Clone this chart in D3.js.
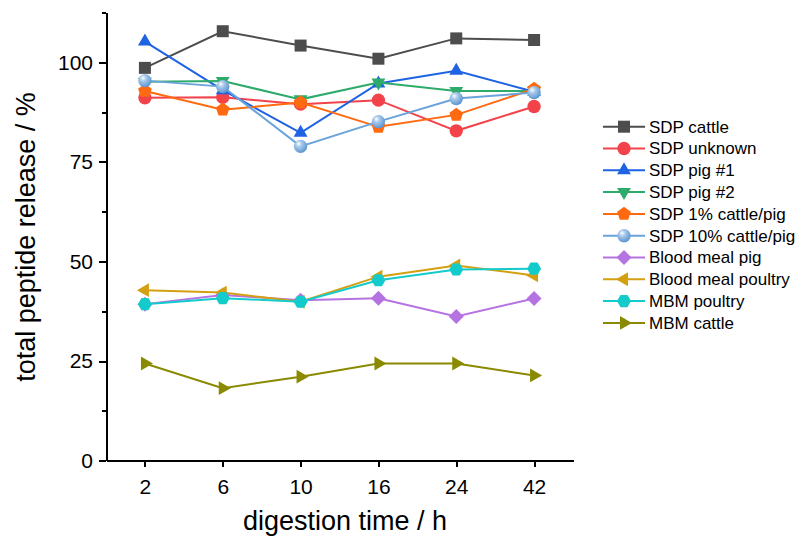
<!DOCTYPE html>
<html lang="en">
<head>
<meta charset="utf-8">
<title>Peptide release</title>
<style>
  body { margin: 0; background: #fff; }
  svg { display: block; font-family: "Liberation Sans", Arial, sans-serif; }
  .axis path, .axis line { stroke: #000; stroke-width: 2; shape-rendering: crispEdges; }
  .axis text { font-size: 21px; fill: #000; }
  .series path.line { fill: none; stroke-width: 2; }
  .legend text { font-size: 17px; fill: #000; }
</style>
</head>
<body>
<div id="chart"></div>
<script src="https://d3js.org/d3.v7.min.js"></script>
<script>
  // digestion times (categories)
  var times = ["2", "6", "10", "16", "24", "42"];

  // series values, % total peptide release
  var sdpCattle   = [98.6, 107.8, 104.2, 100.9, 106.0, 105.6];
  var sdpUnknown  = [91.1, 91.2, 89.5, 90.5, 82.8, 88.9];
  var sdpPig1     = [105.2, 93.0, 82.3, 94.7, 97.9, 92.6];
  var sdpPig2     = [95.1, 95.3, 90.7, 94.9, 92.8, 92.8];
  var sdp1pct     = [92.8, 88.1, 89.9, 83.8, 86.8, 93.3];
  var sdp10pct    = [95.4, 93.9, 78.9, 85.1, 90.9, 92.4];
  var bmPig       = [39.3, 41.6, 40.3, 40.8, 36.2, 40.7];
  var bmPoultry   = [42.8, 42.2, 39.9, 46.2, 49.0, 46.5];
  var mbmPoultry  = [39.3, 40.8, 39.9, 45.3, 48.0, 48.2];
  var mbmCattle   = [24.4, 18.2, 21.1, 24.4, 24.4, 21.4];

  var names  = ["SDP cattle", "SDP unknown", "SDP pig #1", "SDP pig #2", "SDP 1% cattle/pig",
                "SDP 10% cattle/pig", "Blood meal pig", "Blood meal poultry", "MBM poultry", "MBM cattle"];
  var values = [sdpCattle, sdpUnknown, sdpPig1, sdpPig2, sdp1pct, sdp10pct, bmPig, bmPoultry, mbmPoultry, mbmCattle];
  var colors = ["#4d4d4d", "#f2434b", "#1d63e3", "#2eab6a", "#ff6a10", "#6aa3d9", "#b573e2", "#d4a011", "#14cbcb", "#8a8a00"];
  var shapes = ["square", "circle", "up", "down", "pentagon", "sphere", "diamond", "left", "hexagon", "right"];

  var yMajor = [0, 25, 50, 75, 100];
  var yMinor = [12.5, 37.5, 62.5, 87.5, 112.5];

  var W = 802, H = 542;
  var plotL = 106, plotR = 573, plotT = 12.5, plotB = 460.7;

  var svg = d3.select("#chart").append("svg").attr("width", W).attr("height", H);
  svg.append("rect").attr("width", W).attr("height", H).attr("fill", "#fff");

  var x = d3.scalePoint().domain(times).range([plotL, plotR]).padding(0.5);
  var y = d3.scaleLinear().domain([0, 112.5]).range([plotB, plotT]);

  // marker path generator
  function poly(n, r, rot) {
    var pts = [];
    for (var i = 0; i < n; i++) {
      var a = rot + i * 2 * Math.PI / n;
      pts.push([r * Math.cos(a), r * Math.sin(a)]);
    }
    return "M" + pts.join("L") + "Z";
  }
  function markerPath(shape) {
    switch (shape) {
      case "square":   return "M-6,-6H6V6H-6Z";
      case "up":       return poly(3, 8, -Math.PI / 2);
      case "down":     return poly(3, 8, Math.PI / 2);
      case "left":     return poly(3, 8, Math.PI);
      case "right":    return poly(3, 8, 0);
      case "diamond":  return poly(4, 7.5, 0);
      case "pentagon": return poly(5, 7.2, -Math.PI / 2);
      case "hexagon":  return poly(6, 7, 0);
      default:         return d3.symbol(d3.symbolCircle, 140)();
    }
  }

  var defs = svg.append("defs");
  var grad = defs.append("radialGradient").attr("id", "sphere")
    .attr("cx", "40%").attr("cy", "35%").attr("r", "65%").attr("fx", "35%").attr("fy", "30%");
  grad.append("stop").attr("offset", "0%").attr("stop-color", "#ffffff");
  grad.append("stop").attr("offset", "35%").attr("stop-color", "#a9c9ea");
  grad.append("stop").attr("offset", "100%").attr("stop-color", "#5b95d0");

  function markerFill(i) { return shapes[i] === "sphere" ? "url(#sphere)" : colors[i]; }

  // axes
  svg.append("g").attr("class", "axis")
    .attr("transform", "translate(0," + plotB + ")")
    .call(d3.axisBottom(x).tickSize(6).tickSizeOuter(0).tickPadding(12));

  var gyMinor = svg.append("g").attr("class", "axis")
    .attr("transform", "translate(" + plotL + ",0)")
    .call(d3.axisLeft(y).tickValues(yMinor).tickSize(4).tickSizeOuter(0).tickFormat(""));
  gyMinor.select(".domain").remove();

  svg.append("g").attr("class", "axis")
    .attr("transform", "translate(" + plotL + ",0)")
    .call(d3.axisLeft(y).tickValues(yMajor).tickSize(7).tickSizeOuter(0).tickPadding(6));

  // axis titles
  svg.append("text")
    .attr("x", 345).attr("y", 530)
    .attr("text-anchor", "middle")
    .style("font-size", "27px")
    .text("digestion time / h");

  svg.append("text")
    .attr("transform", "translate(35,237) rotate(-90)")
    .attr("text-anchor", "middle")
    .style("font-size", "27px")
    .text("total peptide release / %");

  // series
  var line = d3.line().x(function(d, i) { return x(times[i]); }).y(function(d) { return y(d); });

  values.forEach(function(vals, i) {
    var g = svg.append("g").attr("class", "series");
    g.append("path").attr("class", "line").attr("d", line(vals)).attr("stroke", colors[i]);
    g.selectAll(".pt").data(vals).enter().append("path")
      .attr("class", "pt")
      .attr("d", markerPath(shapes[i]))
      .attr("transform", function(d, j) { return "translate(" + x(times[j]) + "," + y(d) + ")"; })
      .attr("fill", markerFill(i));
  });

  // legend
  var legend = svg.append("g").attr("class", "legend");
  names.forEach(function(name, i) {
    var ry = 126.7 + i * 21.8;
    var row = legend.append("g").attr("transform", "translate(0," + ry + ")");
    row.append("line").attr("x1", 603).attr("x2", 645).attr("y1", 0).attr("y2", 0)
      .attr("stroke", colors[i]).attr("stroke-width", 2);
    row.append("path").attr("d", markerPath(shapes[i]))
      .attr("transform", "translate(624,0)")
      .attr("fill", markerFill(i));
    row.append("text").attr("x", 649).attr("y", 0).attr("dy", "0.35em").text(name);
  });
</script>
</body>
</html>
